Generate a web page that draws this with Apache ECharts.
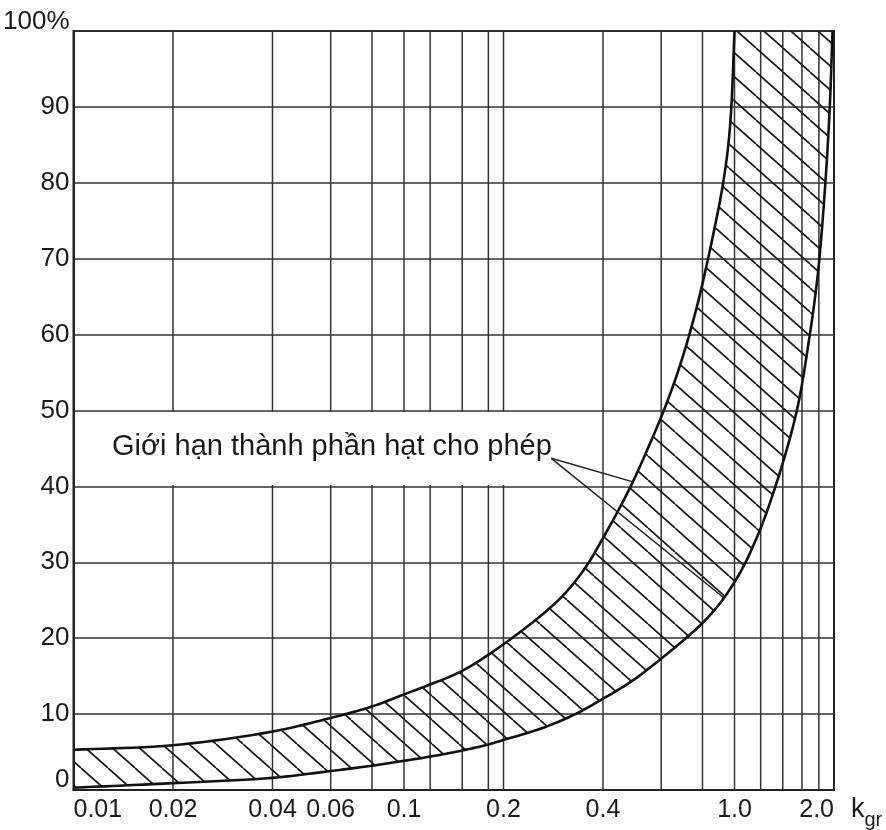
<!DOCTYPE html>
<html>
<head>
<meta charset="utf-8">
<script src="https://cdn.jsdelivr.net/npm/echarts@6/dist/echarts.min.js"></script>
<style>
  html, body { margin: 0; padding: 0; background: #ffffff; }
  #chart { width: 886px; height: 830px; }
</style>
</head>
<body>
<div id="chart"></div>
<script>
// Allowed grading band: percentage vs. grain ratio k_gr (logarithmic axis)

// x axis: labelled ticks and the full set of vertical grid lines
const xTickValues = [0.01, 0.02, 0.04, 0.06, 0.1, 0.2, 0.4, 1.0, 2.0];
const xTickLabels = ['0.01', '0.02', '0.04', '0.06', '0.1', '0.2', '0.4', '1.0', '2.0'];
const xGridValues = [0.02, 0.04, 0.06, 0.08, 0.1, 0.12, 0.15, 0.18, 0.2, 0.4, 0.6, 0.8, 1.0, 1.2, 1.4, 1.6, 1.8];
const xMin = 0.01;
const xMax = 2.0;

// upper limit curve
const upperK = [0.01, 0.02, 0.04, 0.06, 0.08, 0.1, 0.12, 0.15, 0.2, 0.28, 0.32, 0.36, 0.4, 0.48, 0.58, 0.63, 0.68, 0.73, 0.78, 0.82, 0.87, 0.92, 0.955, 0.977, 1.0];
const upperP = [5.3, 5.9, 7.7, 9.5, 11.0, 12.6, 13.9, 15.7, 19.2, 24.2, 26.8, 29.8, 33.2, 39.6, 47.6, 51.5, 55.6, 60.0, 64.7, 68.8, 74.0, 79.5, 84.5, 89.6, 100];

// lower limit curve
const lowerK = [0.01, 0.02, 0.04, 0.06, 0.08, 0.1, 0.12, 0.15, 0.18, 0.2, 0.26, 0.33, 0.41, 0.46, 0.51, 0.55, 0.7, 0.8, 0.9, 1.0, 1.08, 1.2, 1.33, 1.47, 1.57, 1.69, 1.75, 1.8, 1.88, 1.94, 1.98];
const lowerP = [0.3, 0.9, 1.6, 2.5, 3.2, 3.85, 4.4, 5.2, 6.0, 6.6, 8.1, 10.0, 12.3, 13.6, 14.9, 16.0, 19.7, 22.0, 24.5, 27.4, 30.0, 34.5, 40.0, 46.3, 51.5, 60.0, 64.7, 69.3, 79.5, 89.6, 100];

// annotation: caption, its cleared cell and the two pointer lines
const bandLabel = 'Giới hạn thành phần hạt cho phép';
const labelCellK = [0.01, 0.3];
const labelCellP = [40, 50];
const leaderFrom = [0.279, 43.7];
const leaderTo = [[0.493, 40.6], [0.93, 25.3]];

// diagonal hatch tile for the band
function makeHatch(w, h, color, lw) {
  const c = document.createElement('canvas');
  c.width = w; c.height = h;
  const ctx = c.getContext('2d');
  ctx.strokeStyle = color;
  ctx.lineWidth = lw;
  for (let k = -1; k <= 1; k++) {
    ctx.beginPath();
    ctx.moveTo(k * w, 0);
    ctx.lineTo(k * w + w, h);
    ctx.stroke();
  }
  return c;
}
const hatch = { image: makeHatch(27, 24, '#1c1c1c', 1.7), repeat: 'repeat' };

// centripetal Catmull-Rom path through screen points (drawing only)
function smoothPath(pts, steps) {
  if (pts.length < 3) return pts.slice();
  const out = [pts[0]];
  const n = pts.length;
  const get = i => {
    if (i < 0) return [2 * pts[0][0] - pts[1][0], 2 * pts[0][1] - pts[1][1]];
    if (i >= n) return [2 * pts[n - 1][0] - pts[n - 2][0], 2 * pts[n - 1][1] - pts[n - 2][1]];
    return pts[i];
  };
  const knot = (a, b) => Math.pow(Math.hypot(b[0] - a[0], b[1] - a[1]), 0.5) + 1e-6;
  const lerp = (a, b, ta, tb, t) => {
    const u = (t - ta) / (tb - ta);
    return [a[0] + (b[0] - a[0]) * u, a[1] + (b[1] - a[1]) * u];
  };
  for (let i = 0; i < n - 1; i++) {
    const p0 = get(i - 1), p1 = get(i), p2 = get(i + 1), p3 = get(i + 2);
    const t0 = 0, t1 = t0 + knot(p0, p1), t2 = t1 + knot(p1, p2), t3 = t2 + knot(p2, p3);
    for (let s = 1; s <= steps; s++) {
      const t = t1 + (t2 - t1) * s / steps;
      const a1 = lerp(p0, p1, t0, t1, t), a2 = lerp(p1, p2, t1, t2, t), a3 = lerp(p2, p3, t2, t3, t);
      const b1 = lerp(a1, a2, t0, t2, t), b2 = lerp(a2, a3, t1, t3, t);
      out.push(lerp(b1, b2, t1, t2, t));
    }
  }
  return out;
}

const FONT = "'Liberation Sans', Arial, Helvetica, sans-serif";
const INK = '#1a1a1a';

const chart = echarts.init(document.getElementById('chart'), null, { renderer: 'canvas' });

chart.setOption({
  backgroundColor: '#ffffff',
  animation: false,
  grid: {
    left: 73, right: 52, top: 31, bottom: 38,
    show: true, borderColor: '#222', borderWidth: 2, backgroundColor: 'transparent'
  },
  xAxis: {
    type: 'log', logBase: 10, min: xMin, max: xMax,
    name: '{k|k}{s|gr}',
    nameLocation: 'end', nameGap: 17,
    nameTextStyle: {
      align: 'left', verticalAlign: 'top',
      rich: {
        k: { fontFamily: FONT, fontSize: 27, color: INK, lineHeight: 40 },
        s: { fontFamily: FONT, fontSize: 20, color: INK, lineHeight: 22, verticalAlign: 'bottom' }
      }
    },
    axisLine: { show: true, lineStyle: { color: '#222', width: 2 } },
    axisTick: { show: false },
    splitLine: { show: false },
    minorSplitLine: { show: false },
    axisLabel: {
      customValues: xTickValues,
      alignMinLabel: 'left', alignMaxLabel: 'right',
      margin: 8,
      fontFamily: FONT, fontSize: 25, color: INK,
      formatter: function (v) {
        const i = xTickValues.findIndex(t => Math.abs(Math.log10(t) - Math.log10(v)) < 1e-6);
        return i >= 0 ? xTickLabels[i] : '';
      }
    }
  },
  yAxis: {
    type: 'value', min: 0, max: 100, interval: 10,
    axisLine: { show: true, lineStyle: { color: '#222', width: 2 } },
    axisTick: { show: false },
    splitLine: { show: true, lineStyle: { color: '#333', width: 1.5 } },
    axisLabel: {
      margin: 4,
      fontFamily: FONT, fontSize: 26, color: INK,
      formatter: function (v) {
        if (v === 100) return '{t|100%}';
        if (v === 0) return '{b|0}';
        return String(v);
      },
      rich: {
        t: { fontFamily: FONT, fontSize: 26, color: INK, padding: [0, 0, 18, 0] },
        b: { fontFamily: FONT, fontSize: 26, color: INK, padding: [0, 0, 20, 0] }
      }
    }
  },
  graphic: [{
    type: 'text',
    left: 112, top: 432,
    z: 100,
    style: { text: bandLabel, fontFamily: FONT, fontSize: 29, fill: INK }
  }],
  series: [
    {
      // vertical grid lines
      type: 'custom', z: 1, silent: true,
      data: xGridValues.map(v => [v, 0]),
      encode: { x: 0, y: 1 },
      renderItem: function (params, api) {
        const v = api.value(0);
        const a = api.coord([v, 0]);
        const b = api.coord([v, 100]);
        return {
          type: 'line',
          shape: { x1: a[0], y1: a[1], x2: b[0], y2: b[1] },
          style: { stroke: '#333', lineWidth: 1.5 }
        };
      }
    },
    {
      // cleared cell behind the caption
      type: 'custom', z: 2, silent: true,
      data: [[labelCellK[0], labelCellP[0]]],
      encode: { x: 0, y: 1 },
      renderItem: function (params, api) {
        const tl = api.coord([labelCellK[0], labelCellP[1]]);
        const br = api.coord([labelCellK[1], labelCellP[0]]);
        return {
          type: 'rect',
          shape: { x: tl[0] + 1.5, y: tl[1] + 1.5, width: br[0] - tl[0] - 1.5, height: br[1] - tl[1] - 3 },
          style: { fill: '#ffffff' }
        };
      }
    },
    {
      // hatched band and its two limit curves
      type: 'custom', z: 3, silent: true,
      data: [[upperK[0], upperP[0]]],
      encode: { x: 0, y: 1 },
      renderItem: function (params, api) {
        const up = smoothPath(upperK.map((k, i) => api.coord([k, upperP[i]])), 10);
        const lo = smoothPath(lowerK.map((k, i) => api.coord([k, lowerP[i]])), 10);
        const ring = up.concat([api.coord([xMax, 100])], lo.slice().reverse());
        return {
          type: 'group',
          children: [
            { type: 'polygon', shape: { points: ring }, style: { fill: hatch, stroke: null } },
            { type: 'polyline', shape: { points: up }, style: { fill: null, stroke: '#111', lineWidth: 2.6, lineJoin: 'round' } },
            { type: 'polyline', shape: { points: lo }, style: { fill: null, stroke: '#111', lineWidth: 2.6, lineJoin: 'round' } }
          ]
        };
      }
    },
    {
      // pointer lines from the caption to the band edges
      type: 'custom', z: 5, silent: true,
      data: leaderTo.map(p => [p[0], p[1]]),
      encode: { x: 0, y: 1 },
      renderItem: function (params, api) {
        const a = api.coord(leaderFrom);
        const b = api.coord([api.value(0), api.value(1)]);
        return {
          type: 'line',
          shape: { x1: a[0], y1: a[1], x2: b[0], y2: b[1] },
          style: { stroke: '#222', lineWidth: 1.5 }
        };
      }
    }
  ]
});
</script>
</body>
</html>
